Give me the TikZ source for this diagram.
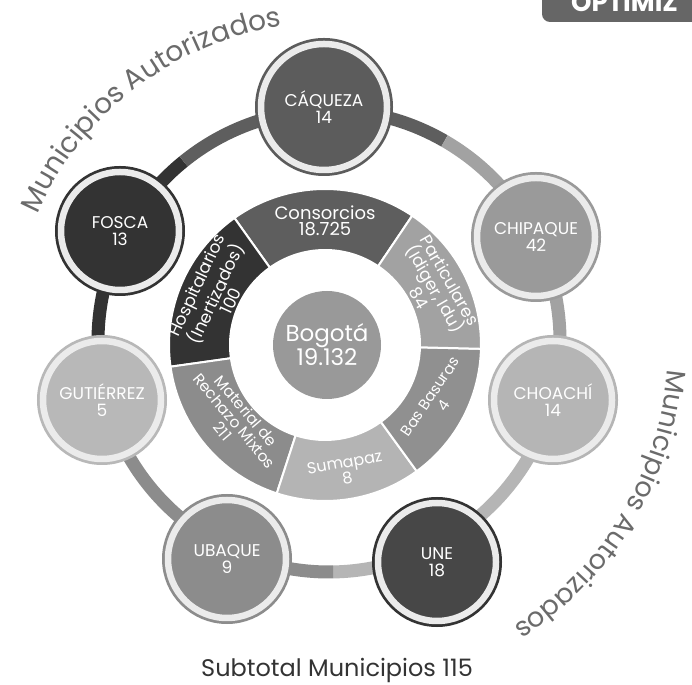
\documentclass[tikz,border=0pt]{standalone}
\usepackage{fontspec}
\setmainfont{Poppins}
\usetikzlibrary{decorations.text}
\newcommand\myfs[2]{\fontsize{#1}{#2}\selectfont}
\definecolor{cCons}{HTML}{5E5E5E}
\definecolor{cHosp}{HTML}{333333}
\definecolor{cMat}{HTML}{8C8C8C}
\definecolor{cSum}{HTML}{B4B4B4}
\definecolor{cBas}{HTML}{909090}
\definecolor{cPart}{HTML}{A2A2A2}
\definecolor{cBog}{HTML}{999999}
\definecolor{ringlight}{HTML}{EBEBEB}
\definecolor{cCaq}{HTML}{5C5C5C}
\definecolor{cChip}{HTML}{9A9A9A}
\definecolor{cCho}{HTML}{B5B5B5}
\definecolor{cUne}{HTML}{474747}
\definecolor{cUneB}{HTML}{333333}
\definecolor{cUba}{HTML}{8C8C8C}
\definecolor{cGut}{HTML}{B8B8B8}
\definecolor{cFosca}{HTML}{333333}
\definecolor{cText}{HTML}{6B6B6B}
\definecolor{cDark}{HTML}{333333}
\definecolor{cTab}{HTML}{666666}
\tikzset{
  muni/.style 2 args={circle, fill=#1, draw=ringlight, line width=6.5pt,
    minimum size=118pt, inner sep=0pt, text=white, align=center,
    font=\myfs{17}{17}, preaction={draw=#2, line width=12pt}},
  seglabel/.style={text=white, align=center, inner sep=0pt},
  sector/.style={draw=white, line width=2pt}
}
\begin{document}
\begin{tikzpicture}[x=1pt,y=1pt]
\useasboundingbox (0,0) rectangle (692,684);
\fill[white] (0,0) rectangle (692,684);

% top-right tab
\fill[cTab, rounded corners=8pt] (542,662) rectangle (740,720);
\node[anchor=base west, text=white, font=\bfseries\myfs{26}{26}, inner sep=0pt] (tab) at (571,672) {OPTIMIZ};

% outer ring connecting municipalities
\begin{scope}[shift={(329,343)}, line width=13pt]
\draw[cFosca] (194:231) arc[start angle=194, end angle=129, radius=231];
\draw[cCons] (129:231) arc[start angle=129, end angle=60, radius=231];
\draw[cPart] (60:231) arc[start angle=60, end angle=-14, radius=231];
\draw[cCho] (-14:231) arc[start angle=-14, end angle=-89, radius=231];
\draw[cUba] (-89:231) arc[start angle=-89, end angle=-166, radius=231];
\end{scope}

% inner ring
\begin{scope}[shift={(325,339)}]
\foreach \a/\b/\c in {56/125.5/cCons, 125.5/188/cHosp, 188/252/cMat, 252/306/cSum, 306/358.6/cBas, -1.4/56/cPart}{
  \filldraw[sector, fill=\c] (\a:95) arc[start angle=\a, end angle=\b, radius=95]
    -- (\b:156) arc[start angle=\b, end angle=\a, radius=156] -- cycle;
}
\node[circle, fill=cBog, minimum size=108pt, inner sep=0pt, text=white, align=center, font=\myfs{23}{24}] (bog) at (2,0) {Bogotá\\19.132};
\node[seglabel, font=\myfs{18}{16}] (cons) at (90:124) {Consorcios\\18.725};
\node[seglabel, font=\myfs{17}{15.5}, rotate=-60] (part) at (27:123) {Particulares\\(Idiger, Idu)\\84};
\node[seglabel, font=\myfs{15}{16}, rotate=56] (bas) at (-26.6:125) {Bas Basuras\\4};
\node[seglabel, font=\myfs{16}{16}, rotate=10] (sum) at (-80.5:127) {Sumapaz\\8};
\node[seglabel, font=\myfs{15.5}{15.5}, rotate=-50] (mat) at (-140:118) {Material de\\Rechazo Mixtos\\211};
\node[seglabel, font=\myfs{17}{15.5}, rotate=65] (hosp) at (155:123) {Hospitalarios\\(Inertizados)\\100};
\end{scope}

% municipalities
\node[muni={cCaq}{cCaq}, minimum size=126pt] (caq) at (324,577) {CÁQUEZA\\14};
\node[muni={cChip}{cChip}] (chip) at (536,447) {CHIPAQUE\\42};
\node[muni={cCho}{cCho}] (cho) at (553,284) {CHOACHÍ\\14};
\node[muni={cUne}{cUneB}] (une) at (437,122) {UNE\\18};
\node[muni={cUba}{cUba}] (uba) at (227,125) {UBAQUE\\9};
\node[muni={cGut}{cGut}] (gut) at (102,284) {GUTIÉRREZ\\5};
\node[muni={cFosca}{cFosca}] (fosca) at (120,453) {FOSCA\\13};

% curved titles
\path[decorate, decoration={text along path, text align=center,
  text={|\myfs{28}{28}\color{cText}|Municipios Autorizados}}]
  ([shift={(329,343)}]160:318) arc[start angle=160, end angle=95, radius=318];
\path[decorate, decoration={text along path, text align=center,
  text={|\myfs{27}{27}\color{cText}|Municipios Autorizados}}]
  ([shift={(329,343)}]0:340) arc[start angle=0, end angle=-62, radius=340];

\node[anchor=base, text=cDark, font=\myfs{24}{24}, inner sep=0pt] (sub) at (337,8) {Subtotal Municipios 115};
\end{tikzpicture}
\end{document}
